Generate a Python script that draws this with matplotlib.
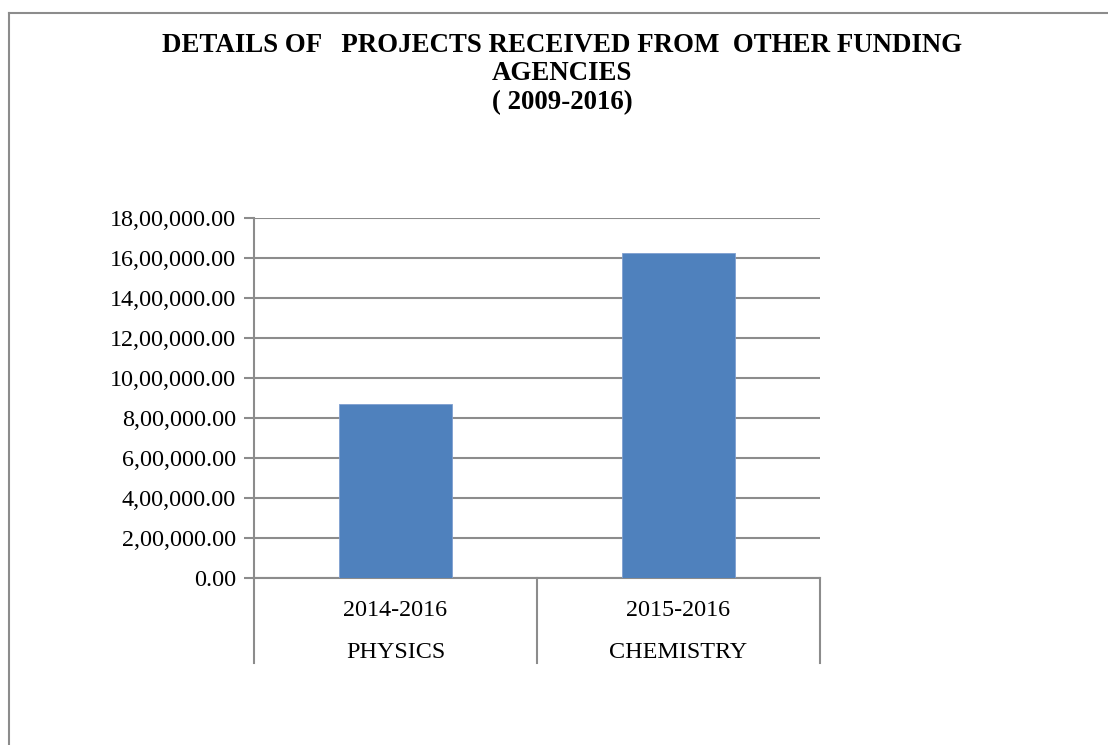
import matplotlib
matplotlib.use("Agg")
import matplotlib.pyplot as plt
from matplotlib.lines import Line2D
from matplotlib.ticker import FuncFormatter

departments = ["PHYSICS", "CHEMISTRY"]
periods = ["2014-2016", "2015-2016"]
amounts = [870000, 1625000]
y_ticks = [0, 200000, 400000, 600000, 800000, 1000000, 1200000, 1400000, 1600000, 1800000]

plt.rcParams['font.family'] = ['Liberation Serif', 'DejaVu Serif']


def indian_format(v, pos=None):
    # 18,00,000.00 style
    whole = int(round(v))
    s = str(whole)
    if len(s) > 3:
        head, tail = s[:-3], s[-3:]
        parts = []
        while len(head) > 2:
            parts.insert(0, head[-2:])
            head = head[:-2]
        if head:
            parts.insert(0, head)
        s = ",".join(parts) + "," + tail
    return s + ".00"


fig = plt.figure(figsize=(11.08, 7.45), dpi=100)
ax = fig.add_axes([254 / 1108, 1 - 578 / 745, (820 - 254) / 1108, (578 - 218) / 745])

grid_col = "#8c8c8c"
x = range(len(departments))
ax.bar(x, amounts, width=0.4, color="#4F81BD", edgecolor="#7f9fd0", linewidth=0.6, zorder=3)

ax.set_xlim(-0.5, len(departments) - 0.5)
ax.set_ylim(0, 1800000)
ax.set_yticks(y_ticks)
ax.yaxis.set_major_formatter(FuncFormatter(indian_format))
ax.yaxis.grid(True, color=grid_col, linewidth=1.5, zorder=0)
ax.set_xticks([])
ax.tick_params(axis="y", length=7, width=1.5, color=grid_col, pad=6, labelsize=17.4)

for s in ["top", "right"]:
    ax.spines[s].set_visible(False)
ax.spines["left"].set_color(grid_col)
ax.spines["left"].set_linewidth(1.5)
ax.spines["bottom"].set_color(grid_col)
ax.spines["bottom"].set_linewidth(1.5)

# category table under the axis
depth = -85 / 360
trans = ax.get_xaxis_transform()
for b in [-0.5, 0.5, 1.5]:
    ax.plot([b, b], [0, depth], transform=trans, color=grid_col, lw=1.5, clip_on=False)
for i in x:
    ax.text(i, -33 / 360, periods[i], transform=trans, ha="center", va="center", fontsize=17.4)
    ax.text(i, -75 / 360, departments[i], transform=trans, ha="center", va="center", fontsize=17.4)

fig.text(562 / 1108, 1 - 74 / 745,
         "DETAILS OF   PROJECTS RECEIVED FROM  OTHER FUNDING\nAGENCIES\n( 2009-2016)",
         ha="center", va="center", fontsize=19.4, fontweight="bold", linespacing=1.17)

# outer chart border (left and top visible)
fig.add_artist(Line2D([8.5 / 1108, 8.5 / 1108], [0, 1 - 12.5 / 745], color=grid_col, lw=1.5))
fig.add_artist(Line2D([8.5 / 1108, 1], [1 - 12.5 / 745, 1 - 12.5 / 745], color=grid_col, lw=1.5))

fig.savefig("out.png", dpi=100)
